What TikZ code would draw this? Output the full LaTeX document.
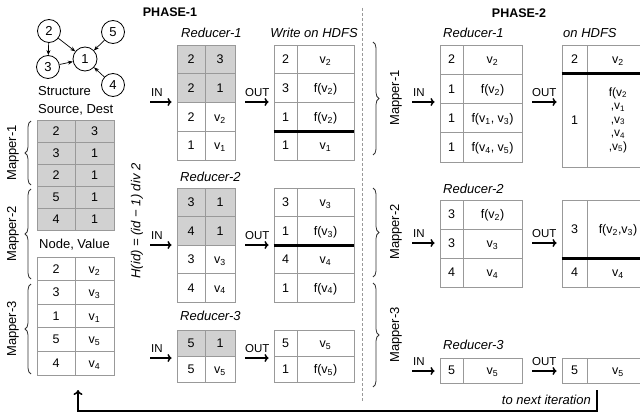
\documentclass[tikz,border=0pt]{standalone}
\usepackage{fontspec}
\setmainfont{Liberation Sans}
\usetikzlibrary{arrows.meta,calc,decorations.pathreplacing}

\definecolor{cellgray}{gray}{0.82}
\definecolor{rulegray}{gray}{0.6}
\newcommand{\vx}[1]{v\textsubscript{#1}}

\begin{document}
\begin{tikzpicture}[x=1pt, y=-1pt, font=\fontsize{13}{15}\selectfont]
\tikzset{vertex/.style={circle,draw,line width=0.8,inner sep=0,minimum size=23},
cell/.style={rectangle,draw=rulegray,line width=0.9,inner sep=0,fill=white,
  text height=9.3pt,text depth=0.7pt,font=\fontsize{12.5}{14}\selectfont},
edge/.style={-{Stealth[length=5pt,width=4pt]},line width=0.7},
flow/.style={-{To[length=4pt,width=8pt]},line width=1.4,shorten >=5pt},
flowlabel/.style={font=\fontsize{11.5}{13}\selectfont,inner sep=0},
sepline/.style={line width=2.6},
mbrace/.style={decorate,decoration={brace,amplitude=6pt},line width=0.8,draw=black!80},
lbl/.style={font=\fontsize{13}{15}\selectfont\itshape,inner sep=0},
divider/.style={draw=rulegray,line width=1,dash pattern=on 3pt off 2pt},
feedback/.style={-{To[length=5pt,width=9pt]},line width=1.6}}

\useasboundingbox (0,0) rectangle (640,417);

%% Graph
\node (n2) [vertex] at (49,31) {2};
\node (n5) [vertex] at (113,32) {5};
\node (n3) [vertex] at (48,67) {3};
\node (n1) [vertex,minimum size=24] at (85,59) {1};
\node (n4) [vertex] at (113,85) {4};
\foreach \u/\v in {n2/n3, n2/n1, n3/n1, n5/n1, n4/n1} \draw[edge] (\u) -- (\v);

%% Input tables
\node (struct) [anchor=west,inner sep=0] at (38,91) {Structure};
\node (srcdst) [anchor=west,inner sep=0] at (38,110) {Source, Dest};
\foreach \a/\b [count=\i] in {2/3,3/1,2/1,5/1,4/1} {
  \node (sd\i-a) [cell,fill=cellgray,minimum width=38,minimum height=22] at (56,109+22*\i) {\a};
  \node (sd\i-b) [cell,fill=cellgray,minimum width=39,minimum height=22] at (94.5,109+22*\i) {\b};
}
\node (nodeval) [anchor=west,inner sep=0] at (39,245) {Node, Value};
\foreach \a [count=\i] in {2,3,1,5,4} {
  \node (nv\i-a) [cell,minimum width=38,minimum height=23.6] at (56,245.2+23.6*\i) {\a};
  \node (nv\i-b) [cell,minimum width=39,minimum height=23.6] at (94.5,245.2+23.6*\i) {\vx{\a}};
}

\draw[mbrace] (31,185) -- (31,121);
\draw[mbrace] (31,279) -- (31,189);
\draw[mbrace] (31,374) -- (31,284);
\node (m1) [rotate=90] at (13,153) {Mapper-1};
\node (m2) [rotate=90] at (13,234) {Mapper-2};
\node (m3) [rotate=90] at (13,329) {Mapper-3};

\node (hash) [rotate=90,font=\fontsize{13}{15}\selectfont\itshape] at (137,221) {H(id) = (id − 1) div 2};

%% Phases
\node (ph1) [font=\fontsize{12.5}{15}\selectfont\bfseries] at (170,12) {PHASE-1};
\node (ph2) [font=\fontsize{12.5}{15}\selectfont\bfseries] at (519,13) {PHASE-2};
\draw[divider] (362,8) -- (362,402);

%% Phase 1, reducer 1
\node (rl1) [lbl,anchor=west] at (181,33) {Reducer-1};
\foreach \a/\b/\f [count=\i] in {2/3/cellgray, 2/1/cellgray, 2/\vx2/white, 1/\vx1/white} {
  \node (ra\i-a) [cell,fill=\f,minimum width=28,minimum height=28.75] at (191,30.6+28.75*\i) {\a};
  \node (ra\i-b) [cell,fill=\f,minimum width=30,minimum height=28.75] at (220,30.6+28.75*\i) {\b};
}
\node (wl1) [lbl] at (314,33) {Write on HDFS};
\foreach \a/\b [count=\i] in {2/\vx2, 3/f(\vx2), 1/f(\vx2), 1/\vx1} {
  \node (wa\i-a) [cell,minimum width=23,minimum height=28.75] at (285.5,30.6+28.75*\i) {\a};
  \node (wa\i-b) [cell,minimum width=57,minimum height=28.75] at (325.5,30.6+28.75*\i) {\b};
}
\draw[sepline] (wa3-a.south west) -- (wa3-b.south east);

%% Phase 1, reducer 2
\node (rl2) [lbl,anchor=west] at (180,177) {Reducer-2};
\foreach \a/\b/\f [count=\i] in {3/1/cellgray, 4/1/cellgray, 3/\vx3/white, 4/\vx4/white} {
  \node (rb\i-a) [cell,fill=\f,minimum width=28,minimum height=28.5] at (191,173.75+28.5*\i) {\a};
  \node (rb\i-b) [cell,fill=\f,minimum width=30,minimum height=28.5] at (220,173.75+28.5*\i) {\b};
}
\foreach \a/\b [count=\i] in {3/\vx3, 1/f(\vx3), 4/\vx4, 1/f(\vx4)} {
  \node (wb\i-a) [cell,minimum width=23,minimum height=28.5] at (285.5,173.75+28.5*\i) {\a};
  \node (wb\i-b) [cell,minimum width=57,minimum height=28.5] at (325.5,173.75+28.5*\i) {\b};
}
\draw[sepline] (wb2-a.south west) -- (wb2-b.south east);

%% Phase 1, reducer 3
\node (rl3) [lbl,anchor=west] at (180,316) {Reducer-3};
\foreach \a/\b/\f [count=\i] in {5/1/cellgray, 5/\vx5/white} {
  \node (rc\i-a) [cell,fill=\f,minimum width=28,minimum height=26] at (191,317+26*\i) {\a};
  \node (rc\i-b) [cell,fill=\f,minimum width=30,minimum height=26] at (220,317+26*\i) {\b};
}
\foreach \a/\b [count=\i] in {5/\vx5, 1/f(\vx5)} {
  \node (wc\i-a) [cell,minimum width=23,minimum height=26] at (285.5,317+26*\i) {\a};
  \node (wc\i-b) [cell,minimum width=57,minimum height=26] at (325.5,317+26*\i) {\b};
}

\coordinate (in1) at (150,102);
\coordinate (out1) at (245,102);
\coordinate (in2) at (150,245);
\coordinate (out2) at (245,245);
\coordinate (in3) at (150,358);
\coordinate (out3) at (245,358);
\draw[flow] (in1) -- (in1 -| ra1-a.west);
\draw[flow] (out1) -- (out1 -| wa1-a.west);
\draw[flow] (in2) -- (in2 -| rb1-a.west);
\draw[flow] (out2) -- (out2 -| wb1-a.west);
\draw[flow] (in3) -- (in3 -| rc1-a.west);
\draw[flow] (out3) -- (out3 -| wc1-a.west);
\foreach \y in {1,2,3} {
  \node [flowlabel,anchor=south west] at ($(in\y)+(1,-5)$) {IN};
  \node [flowlabel,anchor=south west] at ($(out\y)+(0,-5)$) {OUT};
}

%% Phase 2 mappers
\draw[mbrace] (373,42) -- (373,155);
\draw[mbrace] (373,188) -- (373,277);
\draw[mbrace] (373,283) -- (373,387);
\node (pm1) [rotate=90] at (396,98) {Mapper-1};
\node (pm2) [rotate=90] at (396,232) {Mapper-2};
\node (pm3) [rotate=90] at (396,335) {Mapper-3};

%% Phase 2, reducer 1
\node (sl1) [lbl,anchor=west] at (443,33) {Reducer-1};
\foreach \a/\b [count=\i] in {2/\vx2, 1/f(\vx2), 1/{f(\vx1, \vx3)}, 1/{f(\vx4, \vx5)}} {
  \node (sa\i-a) [cell,minimum width=23,minimum height=29.25] at (451.5,30.4+29.25*\i) {\a};
  \node (sa\i-b) [cell,minimum width=59,minimum height=29.25] at (492.5,30.4+29.25*\i) {\b};
}
\node (ol1) [lbl,anchor=west] at (563,33) {on HDFS};
\node (oa1-a) [cell,minimum width=25,minimum height=28] at (574.5,59) {2};
\node (oa1-b) [cell,minimum width=62,minimum height=28] at (618,59) {\vx2};
\node (oa2-a) [cell,minimum width=25,minimum height=94] at (574.5,120) {1};
\node (oa2-b) [cell,minimum width=62,minimum height=94] at (618,120) {};
\node (oa2-txt) [align=center,inner sep=0,font=\fontsize{12}{13.5}\selectfont] at (oa2-b) {f(\vx2\\,\vx1\\,\vx3\\,\vx4\\,\vx5)};
\draw[sepline] (oa1-a.south west) -- (oa1-b.south east);

%% Phase 2, reducer 2
\node (sl2) [lbl,anchor=west] at (443,189) {Reducer-2};
\foreach \a/\b [count=\i] in {3/f(\vx2), 3/\vx3, 4/\vx4} {
  \node (sb\i-a) [cell,minimum width=23,minimum height=29] at (451.5,185.5+29*\i) {\a};
  \node (sb\i-b) [cell,minimum width=59,minimum height=29] at (492.5,185.5+29*\i) {\b};
}
\node (ob1-a) [cell,minimum width=25,minimum height=58] at (574.5,229) {3};
\node (ob1-b) [cell,minimum width=62,minimum height=58] at (618,229) {f(\vx2,\vx3)};
\node (ob2-a) [cell,minimum width=25,minimum height=29] at (574.5,272.5) {4};
\node (ob2-b) [cell,minimum width=62,minimum height=29] at (618,272.5) {\vx4};
\draw[sepline] (ob1-a.south west) -- (ob1-b.south east);

%% Phase 2, reducer 3
\node (sl3) [lbl,anchor=west] at (443,345) {Reducer-3};
\node (sc1-a) [cell,minimum width=23,minimum height=25] at (451.5,370.5) {5};
\node (sc1-b) [cell,minimum width=59,minimum height=25] at (492.5,370.5) {\vx5};
\node (oc1-a) [cell,minimum width=25,minimum height=25] at (574.5,370.5) {5};
\node (oc1-b) [cell,minimum width=62,minimum height=25] at (618,370.5) {\vx5};

\coordinate (pin1) at (412,102);
\coordinate (pout1) at (532,102);
\coordinate (pin2) at (412,243);
\coordinate (pout2) at (532,243);
\coordinate (pin3) at (412,371);
\coordinate (pout3) at (532,371);
\draw[flow] (pin1) -- (pin1 -| sa1-a.west);
\draw[flow] (pout1) -- (pout1 -| oa1-a.west);
\draw[flow] (pin2) -- (pin2 -| sb1-a.west);
\draw[flow] (pout2) -- (pout2 -| ob1-a.west);
\draw[flow] (pin3) -- (pin3 -| sc1-a.west);
\draw[flow] (pout3) -- (pout3 -| oc1-a.west);
\foreach \y in {1,2,3} {
  \node [flowlabel,anchor=south west] at ($(pin\y)+(1,-5)$) {IN};
  \node [flowlabel,anchor=south west] at ($(pout\y)+(0,-5)$) {OUT};
}

%% Back to the mappers
\coordinate (fb1) at (597,390);
\coordinate (fb2) at (78,390);
\draw[feedback] (fb1) -- (597,411) -| (fb2);
\node (nextit) [lbl,anchor=east] at (591,400) {to next iteration};

\end{tikzpicture}
\end{document}
